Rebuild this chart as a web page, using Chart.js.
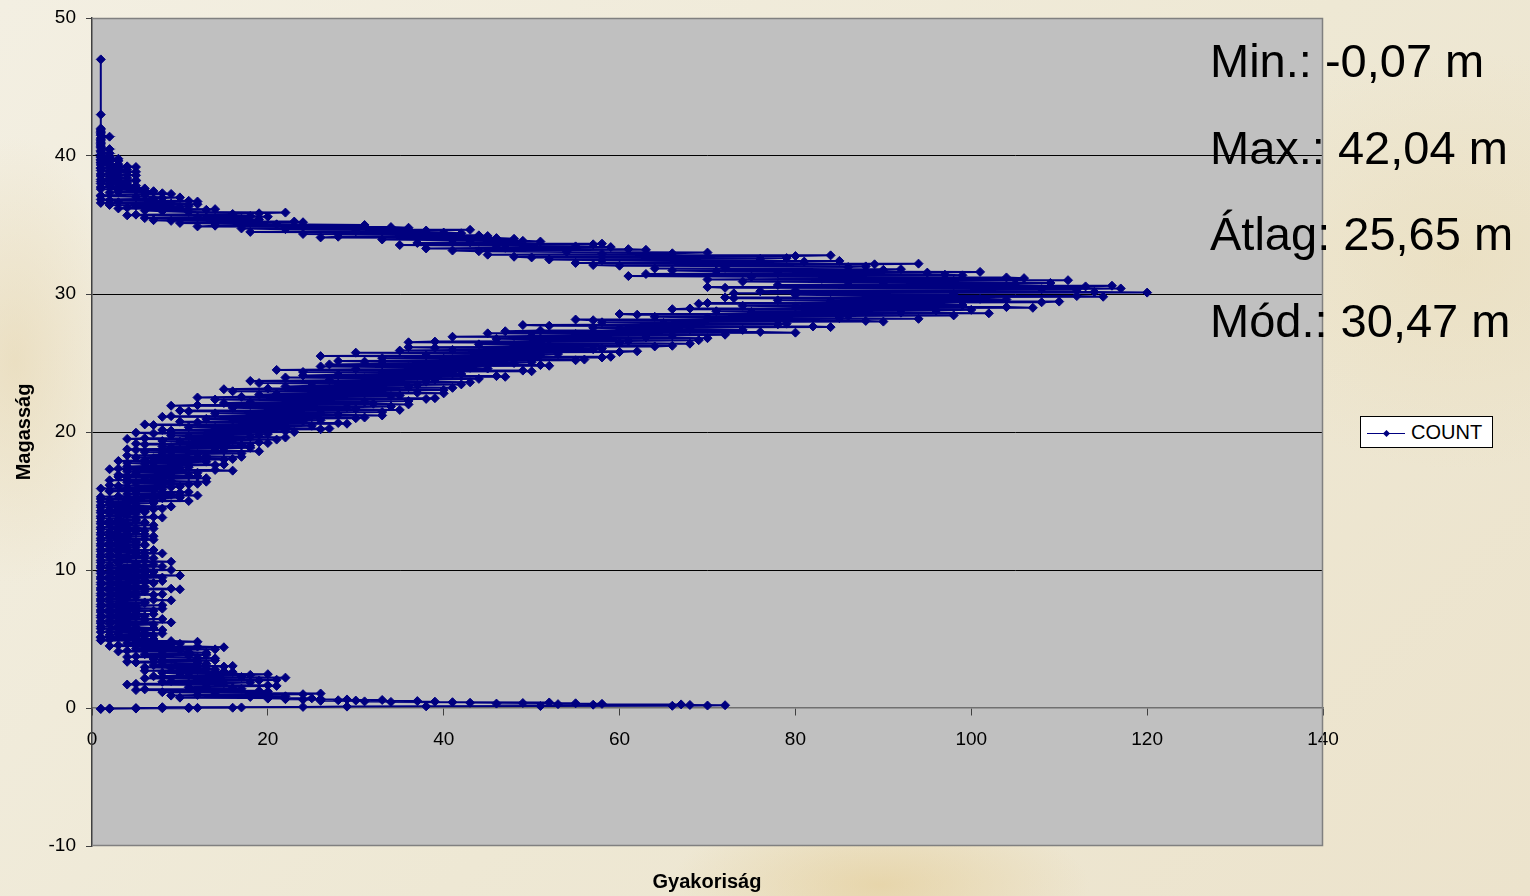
<!DOCTYPE html>
<html>
<head>
<meta charset="utf-8">
<script src="https://cdn.jsdelivr.net/npm/chart.js@4.4.1/dist/chart.umd.min.js"></script>
<style>
html,body{margin:0;padding:0;}
body{width:1530px;height:896px;overflow:hidden;position:relative;font-family:"Liberation Sans",Arial,sans-serif;
background:
 radial-gradient(ellipse 300px 110px at 880px 885px, rgba(226,200,140,0.55), rgba(226,200,140,0) 70%),
 radial-gradient(ellipse 160px 320px at 15px 360px, rgba(226,206,160,0.45), rgba(226,206,160,0) 70%),
 radial-gradient(ellipse 380px 300px at 1460px 260px, rgba(230,214,172,0.35), rgba(230,214,172,0) 70%),
 linear-gradient(135deg, #f3efe2 0%, #eee8d4 55%, #ece3cc 100%);}
#c{position:absolute;left:0;top:0;}
.stat{position:absolute;left:1210px;font-size:47px;line-height:47px;color:#000;white-space:nowrap;}
.title{position:absolute;font-weight:bold;font-size:20px;line-height:20px;color:#000;white-space:nowrap;text-align:center;width:200px;}
#legend{position:absolute;left:1360px;top:416px;width:131px;height:30px;background:#fff;border:1px solid #000;}
</style>
</head>
<body>
<canvas id="c" width="1530" height="896"></canvas>
<div class="stat" style="top:37px">Min.: -0,07 m</div>
<div class="stat" style="top:124px">Max.: 42,04 m</div>
<div class="stat" style="top:210px">Átlag: 25,65 m</div>
<div class="stat" style="top:297px">Mód.: 30,47 m</div>
<div class="title" style="left:607px;top:871px">Gyakoriság</div>
<div class="title" style="left:-77px;top:422px;transform:rotate(-90deg)">Magasság</div>
<div id="legend">
  <div style="position:absolute;left:6px;top:16px;width:38px;height:1px;background:#000080"></div>
  <div style="position:absolute;left:23px;top:14px;width:5px;height:5px;background:#000080;transform:rotate(45deg)"></div>
  <span style="position:absolute;left:50px;top:5px;font-size:20px;line-height:20px;">COUNT</span>
</div>
<script>
// Height (m) and count (frequency) by segment
const hGround = [-0.07,-0.06,-0.05,-0.04,-0.03,-0.02,-0.01,0.00,0.01,0.02,0.03,0.04,0.06,0.08,0.10,0.12,0.14,0.16,0.18,0.20,0.22,0.24,0.26,0.28,0.30,0.32,0.34,0.36,0.38,0.40,0.42,0.44,0.46,0.48,0.50,0.52,0.54,0.56,0.58,0.60,0.62,0.64,0.66,0.68,0.70];
const cGround = [1,2,1,5,2,8,11,5,12,16,11,17,8,24,29,38,51,66,70,72,68,57,67,53,58,46,55,49,43,52,41,34,39,31,37,26,30,28,33,24,29,22,26,20,25];

const hLow = [0.8,0.9,1.0,1.1,1.2,1.3,1.4,1.5,1.6,1.7,1.8,1.9,2.0,2.1,2.2,2.3,2.4,2.5,2.6,2.7,2.8,2.9,3.0,3.1,3.2,3.3,3.4,3.5,3.6,3.7,3.8,3.9,4.0,4.1,4.2,4.3,4.4,4.5,4.6,4.7,4.8,4.9,5.0];
const cLow = [18,9,24,14,20,5,17,11,21,4,15,8,19,12,22,7,18,10,16,6,14,9,15,7,13,5,12,8,14,4,11,6,13,3,10,5,15,2,9,4,12,1,7];
const hLow2 = [0.75,0.85,0.95,1.05,1.15,1.25,1.35,1.45,1.55,1.65,1.75,1.85,1.95,2.05,2.15,2.25,2.35,2.45,2.55,2.65,2.75,2.85,2.95,3.05,3.15,3.25,3.35,3.45,3.55,3.65,3.75,3.85,3.95,4.05,4.15,4.25,4.35,4.45,4.55,4.65,4.75,4.85,4.95];
const cLow2 = [10,22,12,26,8,19,6,16,13,20, 5,18,9,21,6,17,11,20,8,15, 10,13,6,16,8,12,4,14,7,12, 5,13,8,11,4,14,6,12,3,10, 5,9,2];

const hUnder = [5.1,5.2,5.3,5.4,5.5,5.6,5.7,5.8,5.9,6.0,6.1,6.2,6.3,6.4,6.5,6.6,6.7,6.8,6.9,7.0,7.1,7.2,7.3,7.4,7.5,7.6,7.7,7.8,7.9,8.0,8.1,8.2,8.3,8.4,8.5,8.6,8.7,8.8,8.9,9.0,9.1,9.2,9.3,9.4,9.5,9.6,9.7,9.8,9.9,10.0,10.1,10.2,10.3,10.4,10.5,10.6,10.7,10.8,10.9,11.0,11.1,11.2,11.3,11.4,11.5,11.6,11.7,11.8,11.9,12.0,12.1,12.2,12.3,12.4,12.5,12.6,12.7,12.8,12.9,13.0,13.1,13.2,13.3,13.4,13.5,13.6,13.7,13.8,13.9,14.0,14.1,14.2,14.3,14.4,14.5,14.6,14.7,14.8,14.9,15.0];
const cUnder = [1,6,2,8,1,5,3,7,1,4, 2,9,1,6,3,5,1,7,2,4, 1,8,3,5,1,6,2,9,1,4, 3,7,1,5,2,10,1,6,3,4, 1,8,2,5,1,10,3,6,1,9, 2,5,1,7,3,9,1,4,2,6, 1,8,3,5,1,4,2,6,1,5, 3,7,1,4,2,6,1,5,3,7, 1,4,2,6,1,5,3,8,1,4, 2,6,1,7,3,9,1,5,2,11];
const hUnder2 = [5.05,5.15,5.25,5.35,5.45,5.55,5.65,5.75,5.85,5.95, 6.05,6.15,6.25,6.35,6.45,6.55,6.65,6.75,6.85,6.95, 7.05,7.15,7.25,7.35,7.45,7.55,7.65,7.75,7.85,7.95, 8.05,8.15,8.25,8.35,8.45,8.55,8.65,8.75,8.85,8.95, 9.05,9.15,9.25,9.35,9.45,9.55,9.65,9.75,9.85,9.95, 10.05,10.15,10.25,10.35,10.45,10.55,10.65,10.75,10.85,10.95, 11.05,11.15,11.25,11.35,11.45,11.55,11.65,11.75,11.85,11.95, 12.05,12.15,12.25,12.35,12.45,12.55,12.65,12.75,12.85,12.95, 13.05,13.15,13.25,13.35,13.45,13.55,13.65,13.75,13.85,13.95, 14.05,14.15,14.25,14.35,14.45,14.55,14.65,14.75,14.85,14.95];
const cUnder2 = [5,1,7,3,6,2,8,1,5,3, 7,1,4,2,8,1,6,3,5,1, 7,2,5,1,8,3,6,1,7,2, 5,1,8,3,6,1,9,2,5,1, 7,3,6,1,8,2,5,1,7,3, 6,1,8,2,5,1,6,3,7,1, 5,2,6,1,7,3,5,1,6,2, 5,1,6,2,7,1,4,2,6,1, 5,3,7,1,6,2,5,1,7,3, 5,1,6,2,8,1,4,2,7,1];

const hMid = [15.1,15.2,15.3,15.4,15.5,15.6,15.7,15.8,15.9,16.0,16.1,16.2,16.3,16.4,16.5,16.6,16.7,16.8,16.9,17.0,17.1,17.2,17.3,17.4,17.5,17.6,17.7,17.8,17.9,18.0,18.1,18.2,18.3,18.4,18.5,18.6,18.7,18.8,18.9,19.0,19.1,19.2,19.3,19.4,19.5,19.6,19.7,19.8,19.9,20.0];
const cMid = [2,8,1,12,4,10,2,7,1,9, 3,11,5,13,2,8,4,12,3,9, 5,16,2,10,4,14,6,11,3,15, 7,17,4,12,8,19,5,14,9,18, 6,20,10,16,4,22,11,19,7,23];
const hMid2 = [15.05,15.15,15.25,15.35,15.45,15.55,15.65,15.75,15.85,15.95, 16.05,16.15,16.25,16.35,16.45,16.55,16.65,16.75,16.85,16.95, 17.05,17.15,17.25,17.35,17.45,17.55,17.65,17.75,17.85,17.95, 18.05,18.15,18.25,18.35,18.45,18.55,18.65,18.75,18.85,18.95, 19.05,19.15,19.25,19.35,19.45,19.55,19.65,19.75,19.85,19.95];
const cMid2 = [7,1,10,3,9,5,11,2,8,4, 10,2,12,4,9,6,13,3,11,5, 12,4,14,3,11,7,15,4,13,6, 16,5,13,9,17,6,15,4,18,8, 17,5,19,8,21,6,18,9,20,5];

const hRise = [20.1,20.2,20.3,20.4,20.5,20.6,20.7,20.8,20.9,21.0,21.1,21.2,21.3,21.4,21.5,21.6,21.7,21.8,21.9,22.0,22.1,22.2,22.3,22.4,22.5,22.6,22.7,22.8,22.9,23.0,23.1,23.2,23.3,23.4,23.5,23.6,23.7,23.8,23.9,24.0,24.1,24.2,24.3,24.4,24.5,24.6,24.7,24.8,24.9,25.0];
const cRise = [9,26,14,21,7,29,12,24,16,30, 8,33,18,26,11,35,20,29,9,36, 15,31,22,38,12,34,19,40,25,33, 15,41,22,37,28,43,18,39,31,47, 24,42,33,50,21,45,36,52,27,48];
const hRise2 = [20.05,20.15,20.25,20.35,20.45,20.55,20.65,20.75,20.85,20.95, 21.05,21.15,21.25,21.35,21.45,21.55,21.65,21.75,21.85,21.95, 22.05,22.15,22.25,22.35,22.45,22.55,22.65,22.75,22.85,22.95, 23.05,23.15,23.25,23.35,23.45,23.55,23.65,23.75,23.85,23.95, 24.05,24.15,24.25,24.35,24.45,24.55,24.65,24.75,24.85,24.95];
const cRise2 = [22,8,27,11,25,6,28,10,26,13, 31,9,28,14,33,10,30,16,34,12, 32,18,36,14,39,17,35,21,37,16, 40,20,36,25,42,19,38,27,44,22, 46,28,41,24,49,30,43,26,51,33];

const hCrown = [25.1,25.2,25.3,25.4,25.5,25.6,25.7,25.8,25.9,26.0,26.1,26.2,26.3,26.4,26.5,26.6,26.7,26.8,26.9,27.0,27.1,27.2,27.3,27.4,27.5,27.6,27.7,27.8,27.9,28.0,28.1,28.2,28.3,28.4,28.5,28.6,28.7,28.8,28.9,29.0,29.1,29.2,29.3,29.4,29.5,29.6,29.7,29.8,29.9,30.0];
const cCrown = [31,55,40,58,26,51,44,60,35,57, 39,64,48,68,36,61,52,70,41,66, 55,80,47,74,60,84,52,78,65,90, 57,94,70,86,62,102,75,96,66,107, 80,99,69,108,84,104,73,115,88,98];
const hCrown2 = [25.05,25.15,25.25,25.35,25.45,25.55,25.65,25.75,25.85,25.95, 26.05,26.15,26.25,26.35,26.45,26.55,26.65,26.75,26.85,26.95, 27.05,27.15,27.25,27.35,27.45,27.55,27.65,27.75,27.85,27.95, 28.05,28.15,28.25,28.35,28.45,28.55,28.65,28.75,28.85,28.95, 29.05,29.15,29.25,29.35,29.45,29.55,29.65,29.75,29.85,29.95];
const cCrown2 = [50,28,56,33,59,38,53,30,62,41, 58,36,66,44,60,39,69,46,63,50, 72,45,76,51,68,57,82,49,79,58, 88,55,85,64,98,60,92,71,100,68, 104,74,96,70,110,78,101,72,112,80];

const hPeak = [30.1,30.2,30.3,30.4,30.5,30.6,30.7,30.8,30.9,31.0,31.1,31.2,31.3,31.4,31.5,31.6,31.7,31.8,31.9,32.0,32.1,32.2,32.3,32.4,32.5,32.6,32.7,32.8,32.9,33.0,33.1,33.2,33.3,33.4,33.5,33.6,33.7,33.8,33.9,34.0,34.1,34.2,34.3,34.4,34.5,34.6,34.7,34.8,34.9,35.0];
const cPeak = [120,76,112,117,70,116,90,109,74,111, 83,104,61,97,78,101,66,92,72,88, 57,94,69,85,52,79,48,84,58,70, 44,63,38,59,46,57,37,51,41,48, 26,45,35,42,18,38,22,36,12,31];
const hPeak2 = [30.05,30.15,30.25,30.35,30.45,30.55,30.65,30.75,30.85,30.95, 31.05,31.15,31.25,31.35,31.45,31.55,31.65,31.75,31.85,31.95, 32.05,32.15,32.25,32.35,32.45,32.55,32.65,32.75,32.85,32.95, 33.05,33.15,33.25,33.35,33.45,33.55,33.65,33.75,33.85,33.95, 34.05,34.15,34.25,34.35,34.45,34.55,34.65,34.75,34.85,34.95];
const cPeak2 = [73,114,80,108,72,113,78,105,86,98, 70,106,75,99,63,95,71,90,64,86, 60,89,55,81,58,76,50,80,45,66, 54,41,61,47,55,35,58,43,49,33, 46,28,44,24,40,30,43,17,34,14];

const hTop = [35.1,35.2,35.3,35.4,35.5,35.6,35.7,35.8,35.9,36.0,36.1,36.2,36.3,36.4,36.5,36.6,36.7,36.8,36.9,37.0,37.1,37.2,37.3,37.4,37.5,37.6,37.7,37.8,37.9,38.0,38.1,38.2,38.3,38.4,38.5,38.6,38.7,38.8,38.9,39.0,39.1,39.2,39.3,39.4,39.5,39.6,39.7,39.8,39.9,40.0,40.1,40.2,40.3,40.4,40.5,40.6,40.7,40.8,40.9,41.0,41.1,41.2,41.3,41.4,41.5,41.6,41.7,41.8,41.9,42.0,43.0,47.0];
const cTop = [14,24,9,19,6,20,4,16,22,8, 13,3,10,5,12,1,12,2,7,10, 1,6,8,3,6,1,5,2,4,1, 3,5,1,4,2,5,1,3,2,4, 1,5,2,3,1,2,1,3,1,2, 1,2,1,1,2,1,1,1,1,1, 1,1,1,2,1,1,1,1,1,1, 1,1];
const hTop2 = [35.05,35.15,35.25,35.35,35.45,35.55,35.65,35.75,35.85,35.95, 36.05,36.15,36.25,36.35,36.45,36.55,36.65,36.75,36.85,36.95, 37.05,37.15,37.25,37.35,37.45,37.55,37.65,37.75,37.85,37.95, 38.05,38.15,38.25,38.35,38.45,38.55,38.65,38.75,38.85,38.95, 39.05,39.15,39.25,39.35,39.45,39.55,39.65,39.75,39.85,39.95];
const cTop2 = [21,10,23,7,17,12,18,5,19,11, 6,14,4,11,2,9,3,11,1,8, 5,1,9,2,7,3,6,1,5,2, 4,1,5,2,3,1,4,2,5,1, 3,1,4,1,2,1,3,1,2,1];

const yTicks = [-10,0,10,20,30,40,50];
const xTicks = [0,20,40,60,80,100,120,140];

const heights = [].concat(hGround,hLow,hLow2,hUnder,hUnder2,hMid,hMid2,hRise,hRise2,hCrown,hCrown2,hPeak,hPeak2,hTop,hTop2);
const counts = [].concat(cGround,cLow,cLow2,cUnder,cUnder2,cMid,cMid2,cRise,cRise2,cCrown,cCrown2,cPeak,cPeak2,cTop,cTop2);
const points = heights.map((h,i)=>({x:counts[i], y:h})).sort((a,b)=>a.y-b.y);

const plotBg = {
  id:'plotBg',
  beforeDraw(chart){
    const {ctx, chartArea:a} = chart;
    ctx.save();
    ctx.fillStyle='#c0c0c0';
    ctx.fillRect(a.left,a.top,a.right-a.left,a.bottom-a.top);
    ctx.restore();
  },
  beforeDatasetsDraw(chart){
    const {ctx, chartArea:a} = chart;
    ctx.save();
    ctx.strokeStyle='#808080';
    ctx.lineWidth=1.5;
    ctx.beginPath();
    ctx.moveTo(a.left,a.top+0.5); ctx.lineTo(a.right-0.5,a.top+0.5);
    ctx.lineTo(a.right-0.5,a.bottom-0.5); ctx.lineTo(a.left,a.bottom-0.5);
    ctx.stroke();
    ctx.restore();
  }
};

const font = {family:'"Liberation Sans", Arial, sans-serif', size:19};

new Chart(document.getElementById('c'), {
  type:'scatter',
  data:{datasets:[{
    label:'COUNT',
    data:points,
    showLine:true,
    borderColor:'#000080',
    borderWidth:2,
    backgroundColor:'#000080',
    pointStyle:'rectRot',
    pointRadius:4.5,
    pointBorderWidth:1,
    pointBorderColor:'#000080',
    pointBackgroundColor:'#000080',
    tension:0
  }]},
  options:{
    responsive:false,
    animation:false,
    events:[],
    layout:{padding:{left:0,top:18,right:207,bottom:50}},
    plugins:{legend:{display:false},tooltip:{enabled:false}},
    scales:{
      x:{type:'linear',min:0,max:140,position:{y:0},
        afterBuildTicks(s){ s.ticks = xTicks.map(v=>({value:v})); },
        ticks:{color:'#000',font:font,padding:13,maxRotation:0,autoSkip:false},
        grid:{drawOnChartArea:false,drawTicks:true,tickLength:7,tickColor:'#404040'},
        border:{display:true,color:'#707070',width:1.5}
      },
      y:{type:'linear',min:-10,max:50,
        afterFit(s){ s.width = 92; s.paddingTop = 0; s.paddingBottom = 0; },
        afterBuildTicks(s){ s.ticks = yTicks.map(v=>({value:v})); },
        ticks:{color:'#000',font:font,padding:10,autoSkip:false},
        grid:{color:(c)=>{const v=c.tick&&c.tick.value; return (v===0||v===-10||v===50)?'rgba(0,0,0,0)':'#000';},
              lineWidth:1,drawTicks:true,tickLength:6,tickColor:'#404040'},
        border:{display:true,color:'#404040',width:1.5}
      }
    }
  },
  plugins:[plotBg]
});
</script>
</body>
</html>
